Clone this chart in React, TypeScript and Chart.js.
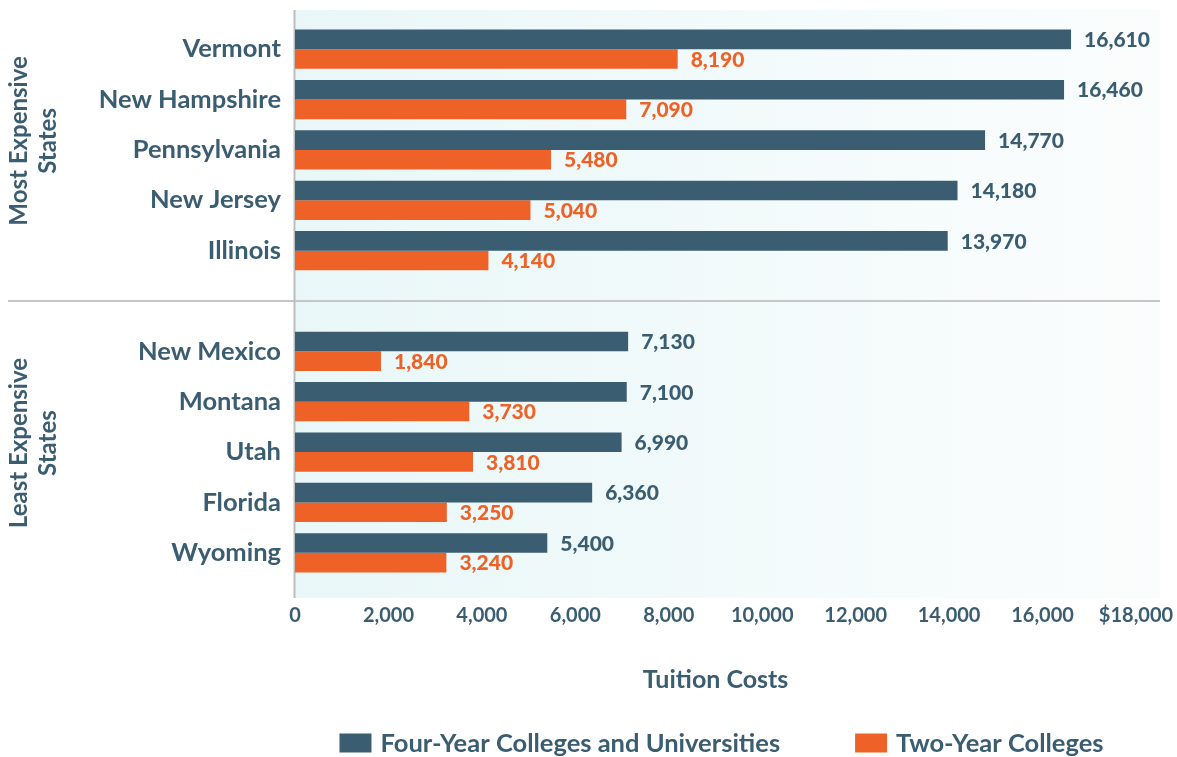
import React, { useEffect, useRef } from "react";
import { Chart, registerables } from "chart.js";

Chart.register(...registerables);

const categories: string[] = [
  "Vermont",
  "New Hampshire",
  "Pennsylvania",
  "New Jersey",
  "Illinois",
  "",
  "New Mexico",
  "Montana",
  "Utah",
  "Florida",
  "Wyoming",
];
const fourYear: (number | null)[] = [16610, 16460, 14770, 14180, 13970, null, 7130, 7100, 6990, 6360, 5400];
const twoYear: (number | null)[] = [8190, 7090, 5480, 5040, 4140, null, 1840, 3730, 3810, 3250, 3240];
const seriesNames: string[] = ["Four-Year Colleges and Universities", "Two-Year Colleges"];
const groupLabels: string[][] = [["Most Expensive", "States"], ["Least Expensive", "States"]];
const groupRanges: number[][] = [[0, 4], [6, 10]];
const separatorIndex = 5;
const xMax = 18000;
const xStep = 2000;
const xTitle = "Tuition Costs";

const DARK = "#3A5D71";
const ORANGE = "#EE6227";
const TEXT = "#3A5D71";
const FONT = "Lato, 'Open Sans', sans-serif";

const decorPlugin = {
  id: "decor",
  beforeDraw(chart: any) {
    const { ctx, chartArea } = chart;
    const x0 = chartArea.left;
    const x1 = chartArea.right + 24;
    const y0 = chartArea.top - 14;
    const y1 = chartArea.bottom + 20;
    ctx.save();
    const g = ctx.createLinearGradient(x0, 0, x1, 0);
    g.addColorStop(0, "#E9F7F8");
    g.addColorStop(1, "#FBFDFD");
    ctx.fillStyle = g;
    ctx.fillRect(x0, y0, x1 - x0, y1 - y0);
    // separator
    const ys = chart.scales.y.getPixelForValue(separatorIndex);
    ctx.strokeStyle = "#C6C6C6";
    ctx.lineWidth = 2;
    ctx.beginPath();
    ctx.moveTo(8, Math.round(ys));
    ctx.lineTo(x1, Math.round(ys));
    ctx.stroke();
    // left axis line
    ctx.strokeStyle = "#BDBDBD";
    ctx.lineWidth = 2;
    ctx.beginPath();
    ctx.moveTo(x0 - 0.5, y0);
    ctx.lineTo(x0 - 0.5, y1);
    ctx.stroke();
    ctx.restore();
  },
  afterDatasetsDraw(chart: any) {
    const { ctx } = chart;
    ctx.save();
    ctx.font = `900 21px ${FONT}`;
    ctx.textAlign = "left";
    ctx.textBaseline = "middle";
    chart.data.datasets.forEach((ds: any, di: number) => {
      const meta = chart.getDatasetMeta(di);
      ctx.fillStyle = ds.backgroundColor;
      meta.data.forEach((bar: any, i: number) => {
        const v = ds.data[i];
        if (v == null) return;
        ctx.fillText(Number(v).toLocaleString("en-US"), bar.x + 13, bar.y + 1);
      });
    });
    ctx.restore();
  },
  afterDraw(chart: any) {
    const { ctx, chartArea } = chart;
    const yScale = chart.scales.y;
    ctx.save();
    // group labels (rotated)
    ctx.fillStyle = TEXT;
    ctx.font = `bold 24px ${FONT}`;
    ctx.textAlign = "center";
    ctx.textBaseline = "middle";
    groupLabels.forEach((lines, gi) => {
      const [a, b] = groupRanges[gi];
      const cy = (yScale.getPixelForValue(a) + yScale.getPixelForValue(b)) / 2 - 9;
      lines.forEach((line, li) => {
        const cx = 19 + li * 29;
        ctx.save();
        ctx.translate(cx, cy);
        ctx.rotate(-Math.PI / 2);
        ctx.fillText(line, 0, 0);
        ctx.restore();
      });
    });
    // legend
    ctx.font = `bold 25.5px ${FONT}`;
    ctx.textBaseline = "middle";
    ctx.textAlign = "left";
    const boxW = 32;
    const boxH = 19;
    const gap = 9;
    const spacing = 75;
    const widths = chart.data.datasets.map((ds: any) => boxW + gap + ctx.measureText(ds.label).width);
    const total = widths.reduce((s: number, w: number) => s + w, 0) + spacing * (widths.length - 1);
    let x = (chartArea.left + chartArea.right) / 2 + 6 - total / 2;
    const ly = 743;
    chart.data.datasets.forEach((ds: any, di: number) => {
      ctx.fillStyle = ds.backgroundColor;
      ctx.fillRect(x, ly - boxH / 2, boxW, boxH);
      ctx.fillStyle = TEXT;
      ctx.fillText(ds.label, x + boxW + gap, ly + 1);
      x += widths[di] + spacing;
    });
    ctx.restore();
  },
};

const zeroPad = (s: any) => {
  s.paddingLeft = 0;
  s.paddingRight = 0;
  s.paddingTop = 0;
  s.paddingBottom = 0;
};

export default function App() {
  const ref = useRef<HTMLCanvasElement | null>(null);
  useEffect(() => {
    if (!ref.current) return;
    const chart = new Chart(ref.current, {
      type: "bar",
      data: {
        labels: categories,
        datasets: [
          { label: seriesNames[0], data: fourYear, backgroundColor: DARK, categoryPercentage: 0.78, barPercentage: 1 },
          { label: seriesNames[1], data: twoYear, backgroundColor: ORANGE, categoryPercentage: 0.78, barPercentage: 1 },
        ],
      } as any,
      options: {
        indexAxis: "y",
        responsive: false,
        animation: false,
        devicePixelRatio: 1,
        layout: { padding: { top: 24, right: 41, bottom: 59, left: 0 } },
        plugins: { legend: { display: false }, tooltip: { enabled: false } },
        scales: {
          y: {
            type: "category",
            offset: true,
            grid: { display: false, drawTicks: false },
            border: { display: false },
            ticks: { color: TEXT, font: { family: FONT, size: 25.5, weight: "bold" }, padding: 14, autoSkip: false },
            afterFit: (s: any) => {
              s.width = 295;
              zeroPad(s);
            },
          },
          x: {
            type: "linear",
            min: 0,
            max: xMax,
            grid: { display: false, drawTicks: false },
            border: { display: false },
            ticks: {
              stepSize: xStep,
              color: TEXT,
              font: { family: FONT, size: 20, weight: "bold" },
              padding: 26,
              maxRotation: 0,
              autoSkip: false,
              callback: (v: any) => (v === xMax ? "$" : "") + Number(v).toLocaleString("en-US"),
            },
            title: {
              display: true,
              text: xTitle,
              color: TEXT,
              font: { family: FONT, size: 25, weight: "bold" },
              padding: { top: 0, bottom: 3 },
            },
            afterFit: (s: any) => {
              s.height = 120;
              zeroPad(s);
            },
          },
        },
      } as any,
      plugins: [decorPlugin],
    });
    return () => chart.destroy();
  }, []);
  return (
    <div style={{ position: "fixed", left: 0, top: 0, width: 1177, height: 757, background: "#fff" }}>
      <canvas ref={ref} width={1177} height={757} style={{ display: "block" }} />
    </div>
  );
}
